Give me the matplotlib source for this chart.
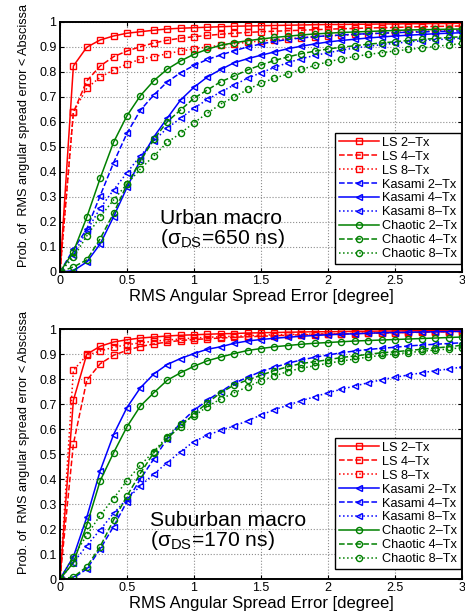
# Recreate the two-panel CDF chart of RMS angular spread error (urban / suburban macro)

import numpy as np
import matplotlib
matplotlib.use('Agg')
import matplotlib.pyplot as plt

plt.rcParams['font.family'] = ['Liberation Sans', 'DejaVu Sans']
plt.rcParams['mathtext.fontset'] = 'custom'
plt.rcParams['mathtext.rm'] = 'Liberation Sans'
plt.rcParams['mathtext.it'] = 'Liberation Sans:italic'

# x grid of the curves (degree)
angle_err = [round(0.1 * i, 1) for i in range(31)]

# ---- Urban macro (top panel) ----
urban_ls2 = [0, .824, .899, .928, .944, .955, .961, .967, .972, .975, .977, .979, .981, .983, .984, .985,
             .986, .987, .988, .989, .990, .990, .991, .991, .992, .992, .993, .993, .994, .994, .995]
urban_ls4 = [0, .638, .764, .824, .861, .884, .901, .916, .927, .935, .941, .946, .951, .955, .958, .961,
             .963, .965, .967, .969, .971, .973, .974, .976, .977, .978, .980, .981, .982, .983, .984]
urban_ls8 = [0, .640, .735, .779, .808, .832, .851, .861, .873, .884, .892, .900, .907, .913, .919, .924,
             .929, .933, .937, .941, .944, .947, .950, .953, .955, .958, .960, .962, .964, .966, .968]
urban_kas2 = [0, .090, .172, .305, .437, .555, .647, .708, .760, .797, .826, .850, .868, .885, .900, .912,
              .922, .930, .936, .941, .945, .948, .951, .953, .955, .957, .959, .960, .962, .963, .964]
urban_kas4 = [0, .005, .040, .112, .221, .338, .448, .540, .615, .688, .739, .780, .810, .837, .853, .867,
              .880, .893, .903, .912, .920, .926, .931, .936, .940, .944, .947, .950, .953, .955, .957]
urban_kas8 = [0, .068, .165, .255, .328, .397, .465, .525, .575, .615, .655, .690, .720, .748, .775, .797,
              .818, .837, .853, .866, .877, .887, .896, .903, .909, .915, .920, .925, .929, .932, .935]
urban_ch2 = [0, .081, .219, .375, .519, .625, .705, .765, .811, .844, .871, .891, .907, .917, .925, .932,
             .938, .943, .948, .952, .955, .958, .960, .962, .964, .966, .968, .969, .970, .971, .972]
urban_ch4 = [0, .020, .048, .133, .235, .350, .444, .530, .601, .648, .695, .728, .761, .784, .808, .828,
             .846, .860, .873, .883, .892, .899, .905, .911, .916, .921, .926, .930, .934, .938, .941]
urban_ch8 = [0, .058, .144, .221, .288, .352, .412, .464, .518, .555, .597, .635, .672, .700, .730, .755,
             .775, .792, .810, .826, .841, .852, .862, .870, .877, .884, .890, .896, .902, .908, .914]

# ---- Suburban macro (bottom panel) ----
sub_ls2 = [0, .715, .899, .931, .948, .957, .964, .968, .972, .975, .977, .979, .981, .982, .984, .985,
           .986, .987, .988, .989, .989, .990, .991, .991, .992, .992, .993, .993, .994, .994, .995]
sub_ls4 = [0, .540, .795, .861, .895, .915, .930, .940, .948, .954, .958, .961, .964, .967, .969, .971,
           .973, .975, .977, .978, .980, .981, .982, .983, .984, .985, .986, .987, .988, .989, .990]
sub_ls8 = [0, .835, .895, .912, .927, .937, .945, .951, .956, .960, .964, .967, .969, .971, .973, .975,
           .977, .978, .979, .980, .981, .982, .983, .984, .985, .986, .987, .988, .989, .990, .990]
sub_kas2 = [0, .089, .247, .433, .578, .686, .765, .820, .858, .882, .902, .919, .929, .943, .952, .958,
            .963, .967, .971, .974, .977, .979, .981, .983, .985, .986, .987, .988, .989, .990, .991]
sub_kas4 = [0, .004, .040, .120, .210, .310, .400, .480, .560, .625, .675, .715, .750, .783, .807, .830,
            .847, .863, .876, .887, .896, .905, .912, .918, .923, .927, .932, .936, .939, .942, .945]
sub_kas8 = [0, .065, .134, .197, .263, .320, .372, .420, .465, .510, .550, .575, .595, .612, .633, .656,
            .677, .695, .713, .729, .745, .759, .772, .785, .797, .807, .816, .825, .833, .840, .848]
sub_ch2 = [0, .065, .216, .393, .505, .609, .692, .745, .795, .825, .851, .873, .888, .902, .914, .922,
           .929, .934, .939, .943, .946, .949, .952, .954, .956, .958, .960, .962, .964, .966, .968]
sub_ch4 = [0, .008, .049, .130, .236, .332, .423, .505, .563, .610, .660, .705, .745, .776, .796, .815,
           .834, .849, .862, .869, .877, .886, .892, .899, .905, .909, .914, .919, .924, .929, .935]
sub_ch8 = [0, .090, .175, .255, .322, .394, .455, .510, .570, .622, .652, .690, .720, .745, .769, .793,
           .812, .830, .843, .853, .863, .872, .880, .888, .895, .900, .906, .911, .916, .920, .925]

urban_labels = ['LS 2–Tx', 'LS 4–Tx', 'LS 8–Tx', 'Kasami 2–Tx', 'Kasami 4–Tx', 'Kasami 8–Tx',
                'Chaotic 2–Tx', 'Chaotic 4–Tx', 'Chaotic 8–Tx']
sub_labels = urban_labels

RED = (1, 0, 0)
BLUE = (0, 0, 1)
GREEN = (0, 0.5, 0)


# Name:     draw_panel()
# Function: Plot nine curves, grid, legend and annotation on one axes.
def draw_panel(ax, series, styles, labels, note, leg_y):
    for ys, (color, ls, mk), lab in zip(series, styles, labels):
        ax.plot(angle_err, ys, color=color, linestyle=ls, marker=mk, markersize=4.4,
                markerfacecolor='none', markeredgewidth=1.0, linewidth=1.1, label=lab)
    ax.set_xlim(0, 3)
    ax.set_ylim(0, 1)
    ax.set_xticks([0, 0.5, 1, 1.5, 2, 2.5, 3])
    ax.set_xticklabels(['0', '0.5', '1', '1.5', '2', '2.5', '3'])
    ax.set_yticks(np.linspace(0, 1, 11))
    ax.set_yticklabels(['0', '0.1', '0.2', '0.3', '0.4', '0.5', '0.6', '0.7', '0.8', '0.9', '1'])
    ax.tick_params(direction='in', length=3, width=0.8, labelsize=9, pad=2.5,
                   top=True, right=True)
    ax.grid(True, linestyle=':', color='0.55', linewidth=0.8)
    for sp in ax.spines.values():
        sp.set_linewidth(1.4)
    ax.set_xlabel('RMS Angular Spread Error [degree]', fontsize=12, labelpad=1)
    ax.set_ylabel('Prob. of  RMS angular spread error < Abscissa', fontsize=9.2)
    ax.yaxis.set_label_coords(-0.075, 0.545)
    leg = ax.legend(loc='lower right', bbox_to_anchor=(0.998, leg_y), fontsize=9.2,
                    handlelength=3.1, handletextpad=0.3, borderpad=0.3, labelspacing=0.15,
                    fancybox=False, framealpha=1, borderaxespad=0)
    leg.get_frame().set_edgecolor('black')
    leg.get_frame().set_linewidth(1.0)
    ax.text(note[0], note[1], note[2], fontsize=15.2, va='center', ha='left',
            linespacing=0.95)


def main():
    fig = plt.figure(figsize=(4.65, 6.12), dpi=100)
    ax1 = fig.add_axes([0.129, 0.5556, 0.8645, 0.4085])
    ax2 = fig.add_axes([0.129, 0.0539, 0.8645, 0.4085])

    urban_styles = [(RED, '-', 's'), (RED, '--', 's'), (RED, ':', 's'),
                    (BLUE, '--', '<'), (BLUE, '-', '<'), (BLUE, ':', '<'),
                    (GREEN, '-', 'o'), (GREEN, '--', 'o'), (GREEN, ':', 'o')]
    sub_styles = [(RED, '-', 's'), (RED, '--', 's'), (RED, ':', 's'),
                  (BLUE, '-', '<'), (BLUE, '--', '<'), (BLUE, ':', '<'),
                  (GREEN, '-', 'o'), (GREEN, '--', 'o'), (GREEN, ':', 'o')]

    draw_panel(ax1, [urban_ls2, urban_ls4, urban_ls8, urban_kas2, urban_kas4, urban_kas8,
                     urban_ch2, urban_ch4, urban_ch8], urban_styles, urban_labels,
               (0.75, 0.17, 'Urban macro\n($\\mathrm{\\sigma}_{\\mathrm{DS}}$=650 ns)'), 0.032)
    draw_panel(ax2, [sub_ls2, sub_ls4, sub_ls8, sub_kas2, sub_kas4, sub_kas8,
                     sub_ch2, sub_ch4, sub_ch8], sub_styles, sub_labels,
               (0.67, 0.19, 'Suburban macro\n($\\mathrm{\\sigma}_{\\mathrm{DS}}$=170 ns)'), 0.04)

    fig.savefig('out.png', dpi=100)


if __name__ == '__main__':
    main()
